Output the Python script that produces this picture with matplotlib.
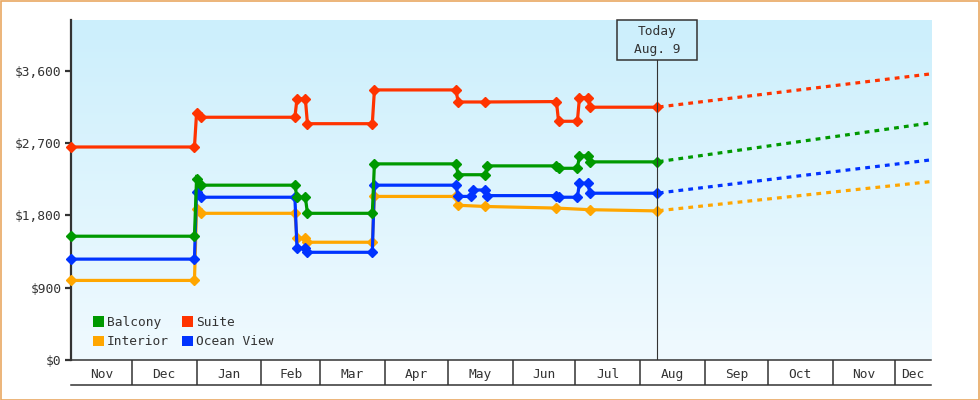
import matplotlib
matplotlib.use("Agg")
import numpy as np
import pandas as pd
import matplotlib.pyplot as plt
import matplotlib.dates as mdates
import matplotlib.transforms as mtransforms
from matplotlib.patches import Patch, Rectangle
from matplotlib.lines import Line2D
from matplotlib.ticker import FuncFormatter

# observed prices per cabin type
balcony_dates = ["2022-11-02", "2022-12-31", "2023-01-01", "2023-01-03", "2023-02-17", "2023-02-18",
                 "2023-02-22", "2023-02-23", "2023-03-26", "2023-03-27", "2023-05-05", "2023-05-06",
                 "2023-05-19", "2023-05-20", "2023-06-22", "2023-06-23", "2023-07-02", "2023-07-03",
                 "2023-07-07", "2023-07-08", "2023-08-09"]
balcony_prices = [1540, 1540, 2250, 2175, 2175, 2025, 2025, 1825, 1825, 2440, 2440, 2305,
                  2305, 2415, 2415, 2385, 2385, 2540, 2540, 2465, 2465]

suite_dates = ["2022-11-02", "2022-12-31", "2023-01-01", "2023-01-03", "2023-02-17", "2023-02-18",
               "2023-02-22", "2023-02-23", "2023-03-26", "2023-03-27", "2023-05-05", "2023-05-06",
               "2023-05-19", "2023-06-22", "2023-06-23", "2023-07-02", "2023-07-03", "2023-07-07",
               "2023-07-08", "2023-08-09"]
suite_prices = [2650, 2650, 3070, 3020, 3020, 3250, 3250, 2940, 2940, 3360, 3360, 3210,
                3210, 3215, 2970, 2970, 3265, 3265, 3145, 3145]

ocean_dates = ["2022-11-02", "2022-12-31", "2023-01-01", "2023-01-03", "2023-02-17", "2023-02-18",
               "2023-02-22", "2023-02-23", "2023-03-26", "2023-03-27", "2023-05-05", "2023-05-06",
               "2023-05-12", "2023-05-13", "2023-05-19", "2023-05-20", "2023-06-22", "2023-06-23",
               "2023-07-02", "2023-07-03", "2023-07-07", "2023-07-08", "2023-08-09"]
ocean_prices = [1255, 1255, 2095, 2025, 2025, 1390, 1390, 1340, 1340, 2175, 2175, 2035,
                2035, 2115, 2115, 2045, 2045, 2025, 2025, 2200, 2200, 2075, 2075]

interior_dates = ["2022-11-02", "2022-12-31", "2023-01-01", "2023-01-03", "2023-02-17", "2023-02-18",
                  "2023-02-22", "2023-02-23", "2023-03-26", "2023-03-27", "2023-05-05", "2023-05-06",
                  "2023-05-19", "2023-06-22", "2023-07-08", "2023-08-09"]
interior_prices = [990, 990, 1875, 1825, 1825, 1515, 1515, 1465, 1465, 2035, 2035, 1925,
                   1910, 1890, 1870, 1855]

# projection from today to end of range
forecast_dates = ["2023-08-09", "2023-12-18"]
balcony_forecast = [2465, 2950]
suite_forecast = [3145, 3560]
ocean_forecast = [2075, 2490]
interior_forecast = [1855, 2220]

today = "2023-08-09"
today_label = "Aug. 9"

month_starts = ["2022-11-02", "2022-12-01", "2023-01-01", "2023-02-01", "2023-03-01", "2023-04-01",
                "2023-05-01", "2023-06-01", "2023-07-01", "2023-08-01", "2023-09-01", "2023-10-01",
                "2023-11-01", "2023-12-01", "2023-12-18"]
month_labels = ["Nov", "Dec", "Jan", "Feb", "Mar", "Apr", "May", "Jun", "Jul", "Aug", "Sep",
                "Oct", "Nov", "Dec"]
y_ticks = [0, 900, 1800, 2700, 3600]

colors = {"Balcony": "#009900", "Suite": "#ff3300", "Interior": "#ffa600", "Ocean View": "#0033ff"}
ink = "#333333"
font = "DejaVu Sans Mono"
fs = 9.3

fig = plt.figure(figsize=(9.8, 4), dpi=100)
ax = fig.add_axes([71 / 980, 40 / 400, 860 / 980, 340 / 400])

x0 = pd.Timestamp(month_starts[0])
x1 = pd.Timestamp(month_starts[-1])

# gradient background
grad = np.linspace(0, 1, 256).reshape(-1, 1)
top = np.array([204, 239, 252]) / 255
bot = np.array([240, 250, 255]) / 255
img = top[None, None, :] * (1 - grad[:, :, None]) + bot[None, None, :] * grad[:, :, None]
ax.imshow(img, extent=(0, 1, 0, 1), transform=ax.transAxes, aspect="auto", zorder=0)
ax.set_xlim(x0, x1)
ax.set_ylim(0, 4230)

series = [
    ("Interior", interior_dates, interior_prices, interior_forecast),
    ("Ocean View", ocean_dates, ocean_prices, ocean_forecast),
    ("Balcony", balcony_dates, balcony_prices, balcony_forecast),
    ("Suite", suite_dates, suite_prices, suite_forecast),
]
for name, d, p, fc in series:
    c = colors[name]
    ax.plot(pd.to_datetime(d), p, color=c, lw=2.3, marker="D", ms=5.3, zorder=3, clip_on=False,
            solid_joinstyle="miter")
    ax.plot(pd.to_datetime(forecast_dates), fc, color=c, lw=2.3, ls=(2.5, (1.5, 1.6)), zorder=3)

# today marker
tnum = mdates.date2num(pd.Timestamp(today))
blend = mtransforms.blended_transform_factory(ax.transData, ax.transAxes)
box_bottom = 1 - 40 / 340
ax.plot([tnum, tnum], [0, box_bottom], color=ink, lw=0.8, transform=blend, zorder=4)
half = 40 / (860 / (x1 - x0).days)
ax.add_patch(Rectangle((tnum - half, box_bottom), 2 * half, 40 / 340, transform=blend,
                       facecolor="none", edgecolor=ink, lw=1.1, zorder=4, clip_on=False))
ax.text(tnum, 1 - 12 / 340, "Today", transform=blend, ha="center", va="center",
        family=font, fontsize=fs, color=ink)
ax.text(tnum, 1 - 30 / 340, today_label, transform=blend, ha="center", va="center",
        family=font, fontsize=fs, color=ink)

# spines
for s in ["top", "right"]:
    ax.spines[s].set_visible(False)
ax.spines["left"].set_color(ink)
ax.spines["left"].set_linewidth(1.6)
ax.spines["bottom"].set_color(ink)
ax.spines["bottom"].set_linewidth(1.1)

ax.set_yticks(y_ticks)
ax.yaxis.set_major_formatter(FuncFormatter(lambda v, _: f"${v:,.0f}"))
ax.tick_params(axis="y", length=4.5, width=1.6, color=ink, pad=2.5, labelsize=fs, labelcolor=ink)
for lab in ax.get_yticklabels():
    lab.set_family(font)

# month table under the axis
bounds = pd.to_datetime(month_starts)
ax.set_xticks(bounds[1:-1])
ax.set_xticklabels([])
ax.tick_params(axis="x", which="major", length=18, width=1.1, color=ink, direction="out")
mids = [b + (e - b) / 2 for b, e in zip(bounds[:-1], bounds[1:])]
ax.set_xticks(mids, minor=True)
ax.set_xticklabels(month_labels, minor=True)
ax.tick_params(axis="x", which="minor", length=0, pad=6, labelsize=fs, labelcolor=ink)
for lab in ax.get_xticklabels(minor=True):
    lab.set_family(font)
ax.add_line(Line2D([0, 1], [-25 / 340, -25 / 340], transform=ax.transAxes, color=ink,
                   lw=1.1, clip_on=False))

# legend
order = ["Balcony", "Interior", "Suite", "Ocean View"]
handles = [Patch(facecolor=colors[n], edgecolor="none", label=n) for n in order]
leg = ax.legend(handles=handles, ncol=2, loc="lower left", bbox_to_anchor=(0.012, 0.0),
                frameon=False, handlelength=0.85, handleheight=0.85, handletextpad=0.25,
                columnspacing=1.0, labelspacing=0.5, prop={"family": font, "size": fs})
for t in leg.get_texts():
    t.set_color(ink)

# outer frame
fig.patches.append(Rectangle((0.5 / 980, 0.5 / 400), 978.5 / 980, 398.5 / 400,
                             transform=fig.transFigure, facecolor="none",
                             edgecolor="#e9a862", lw=1.2))

fig.savefig("out.png", dpi=100, facecolor="white")
